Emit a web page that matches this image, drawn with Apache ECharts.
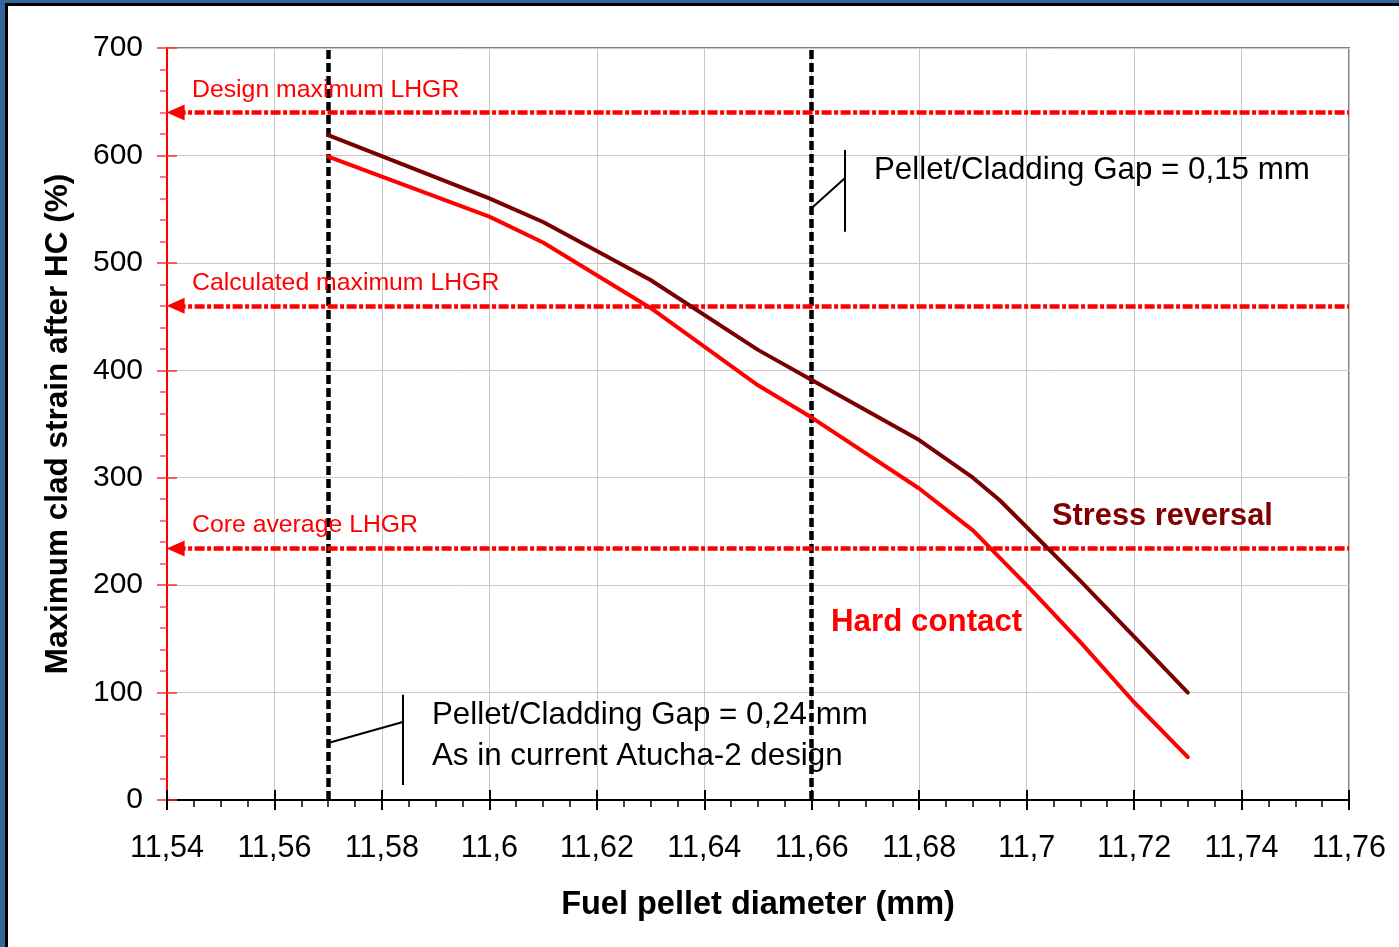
<!DOCTYPE html>
<html>
<head>
<meta charset="utf-8">
<script src="https://cdn.jsdelivr.net/npm/echarts@6/dist/echarts.min.js"></script>
<style>
html,body{margin:0;padding:0;background:#fff;}
#c{width:1399px;height:947px;}
</style>
</head>
<body>
<div id="c"></div>
<script>
// ---- data ----
const darkX = [11.57, 11.60, 11.61, 11.63, 11.65, 11.66, 11.68, 11.69, 11.695, 11.71, 11.72, 11.73];
const darkY = [619, 560, 538, 484, 419, 391, 335, 300, 279, 204, 152, 100];
const redX  = [11.57, 11.60, 11.61, 11.63, 11.65, 11.66, 11.68, 11.69, 11.70, 11.71, 11.72, 11.73];
const redY  = [599, 543, 519, 458, 386, 356, 290, 251, 200, 147, 91, 40];
const refNames  = ['Design maximum LHGR', 'Calculated maximum LHGR', 'Core average LHGR'];
const refValues = [640, 460, 234];
const gapLines  = [11.57, 11.66];
const xMin = 11.54, xMax = 11.76, xStep = 0.02;
const yMin = 0, yMax = 700, yStep = 100;

const FONT = '"Liberation Sans", Arial, sans-serif';
const fmtX = v => String(Number(v.toFixed(3))).replace('.', ',');

const chart = echarts.init(document.getElementById('c'), null, {renderer: 'canvas'});

const pair = (a, b) => a.map((x, i) => [x, b[i]]);

const refMark = refValues.map(v => [
  {coord: [xMin + 0.0016, v]},
  {coord: [xMax, v]}
]);

const calloutSegs = [
  [{coord: [11.66, 551]}, {coord: [11.6662, 579]}],
  [{coord: [11.6662, 605]}, {coord: [11.6662, 529]}],
  [{coord: [11.57, 53]}, {coord: [11.5839, 72.6]}],
  [{coord: [11.5839, 98]}, {coord: [11.5839, 14]}]
];

const option = {
  backgroundColor: '#ffffff',
  animation: false,
  grid: {left: 167, top: 48, right: 50, bottom: 147, show: true, borderColor: '#808080', borderWidth: 2, backgroundColor: 'transparent'},
  xAxis: [{
    type: 'value', min: xMin, max: xMax, interval: xStep,
    name: 'Fuel pellet diameter (mm)', nameLocation: 'middle', nameGap: 89,
    nameTextStyle: {fontFamily: FONT, fontSize: 32.5, fontWeight: 'bold', color: '#000'},
    axisLine: {show: true, onZero: false, lineStyle: {color: '#000', width: 2}},
    axisTick: {show: true, inside: false, length: 10, lineStyle: {color: '#000', width: 2}},
    minorTick: {show: true, splitNumber: 4, length: 7, lineStyle: {color: '#000', width: 1.5}},
    axisLabel: {fontFamily: FONT, fontSize: 30.5, color: '#000', margin: 33, formatter: fmtX},
    splitLine: {show: true, lineStyle: {color: '#c8c8c8', width: 1}}
  }, {
    type: 'value', min: xMin, max: xMax, interval: xStep, position: 'bottom',
    axisLine: {show: false}, axisLabel: {show: false}, splitLine: {show: false},
    axisTick: {show: true, inside: true, length: 10, lineStyle: {color: '#000', width: 2}}
  }],
  yAxis: [{
    type: 'value', min: yMin, max: yMax, interval: yStep,
    name: 'Maximum clad strain after HC (%)', nameLocation: 'middle', nameGap: 93,
    nameTextStyle: {fontFamily: FONT, fontSize: 31.5, fontWeight: 'bold', color: '#000'},
    axisLine: {show: true, onZero: false, lineStyle: {color: '#ff0000', width: 2}},
    axisTick: {show: true, inside: false, length: 10, lineStyle: {color: '#ff3030', width: 1.5}},
    minorTick: {show: true, splitNumber: 5, length: 7, lineStyle: {color: '#ff5050', width: 1.5}},
    axisLabel: {fontFamily: FONT, fontSize: 30, color: '#000', margin: 24},
    splitLine: {show: true, lineStyle: {color: '#c8c8c8', width: 1}}
  }, {
    type: 'value', min: yMin, max: yMax, interval: yStep, position: 'left',
    axisLine: {show: false}, axisLabel: {show: false}, splitLine: {show: false},
    axisTick: {show: true, inside: true, length: 10, lineStyle: {color: '#ff3030', width: 1.5}}
  }],
  series: [
    {
      name: 'gaps', type: 'line', data: [], z: 4,
      markLine: {
        silent: true, symbol: ['none', 'none'], animation: false,
        label: {show: false},
        lineStyle: {color: '#000', width: 4.5, type: [9, 4]},
        data: gapLines.map(v => ({xAxis: v}))
      }
    },
    {
      name: 'refs', type: 'line', data: [], z: 3,
      markLine: {
        silent: true, symbol: ['triangle', 'none'], symbolSize: [16, 18], animation: false,
        label: {show: false},
        lineStyle: {color: '#ff0000', width: 4.5, type: [10, 2.5, 4, 2.5], opacity: 1},
        data: refMark
      }
    },
    {
      name: 'callouts', type: 'line', data: [], z: 5,
      markLine: {
        silent: true, symbol: ['none', 'none'], animation: false,
        label: {show: false},
        lineStyle: {color: '#000', width: 2, type: 'solid'},
        data: calloutSegs
      }
    },
    {
      name: 'Gap 0,15 mm', type: 'line', data: pair(darkX, darkY), z: 6,
      symbol: 'none', lineStyle: {color: '#7a0000', width: 4, cap: 'round', join: 'round'}
    },
    {
      name: 'Gap 0,24 mm', type: 'line', data: pair(redX, redY), z: 6,
      symbol: 'none', lineStyle: {color: '#ff0000', width: 4, cap: 'round', join: 'round'}
    }
  ],
  graphic: [
    {type: 'rect', left: 0, top: 0, shape: {width: 1399, height: 3}, style: {fill: '#35669b'}, z: 100},
    {type: 'rect', left: 0, top: 0, shape: {width: 5, height: 947}, style: {fill: '#35669b'}, z: 100},
    {type: 'rect', left: 5, top: 3, shape: {width: 1394, height: 3}, style: {fill: '#000'}, z: 100},
    {type: 'rect', left: 5, top: 3, shape: {width: 3, height: 944}, style: {fill: '#000'}, z: 100},
    {type: 'text', left: 192, top: 78, style: {text: refNames[0], fontFamily: FONT, fontSize: 24.8, fill: '#ff0000'}, z: 50},
    {type: 'text', left: 192, top: 271, style: {text: refNames[1], fontFamily: FONT, fontSize: 24.8, fill: '#ff0000'}, z: 50},
    {type: 'text', left: 192, top: 513, style: {text: refNames[2], fontFamily: FONT, fontSize: 24.8, fill: '#ff0000'}, z: 50},
    {type: 'text', left: 874, top: 155, style: {text: 'Pellet/Cladding Gap = 0,15 mm', fontFamily: FONT, fontSize: 31.3, fill: '#000'}, z: 50},
    {type: 'text', left: 432, top: 700, style: {text: 'Pellet/Cladding Gap = 0,24 mm', fontFamily: FONT, fontSize: 31.3, fill: '#000'}, z: 50},
    {type: 'text', left: 432, top: 741, style: {text: 'As in current Atucha-2 design', fontFamily: FONT, fontSize: 31.3, fill: '#000'}, z: 50},
    {type: 'text', left: 1052, top: 501, style: {text: 'Stress reversal', fontFamily: FONT, fontSize: 30.8, fontWeight: 'bold', fill: '#800000'}, z: 50},
    {type: 'text', left: 831, top: 607, style: {text: 'Hard contact', fontFamily: FONT, fontSize: 31.3, fontWeight: 'bold', fill: '#ff0000'}, z: 50}
  ]
};
chart.setOption(option);
</script>
</body>
</html>
